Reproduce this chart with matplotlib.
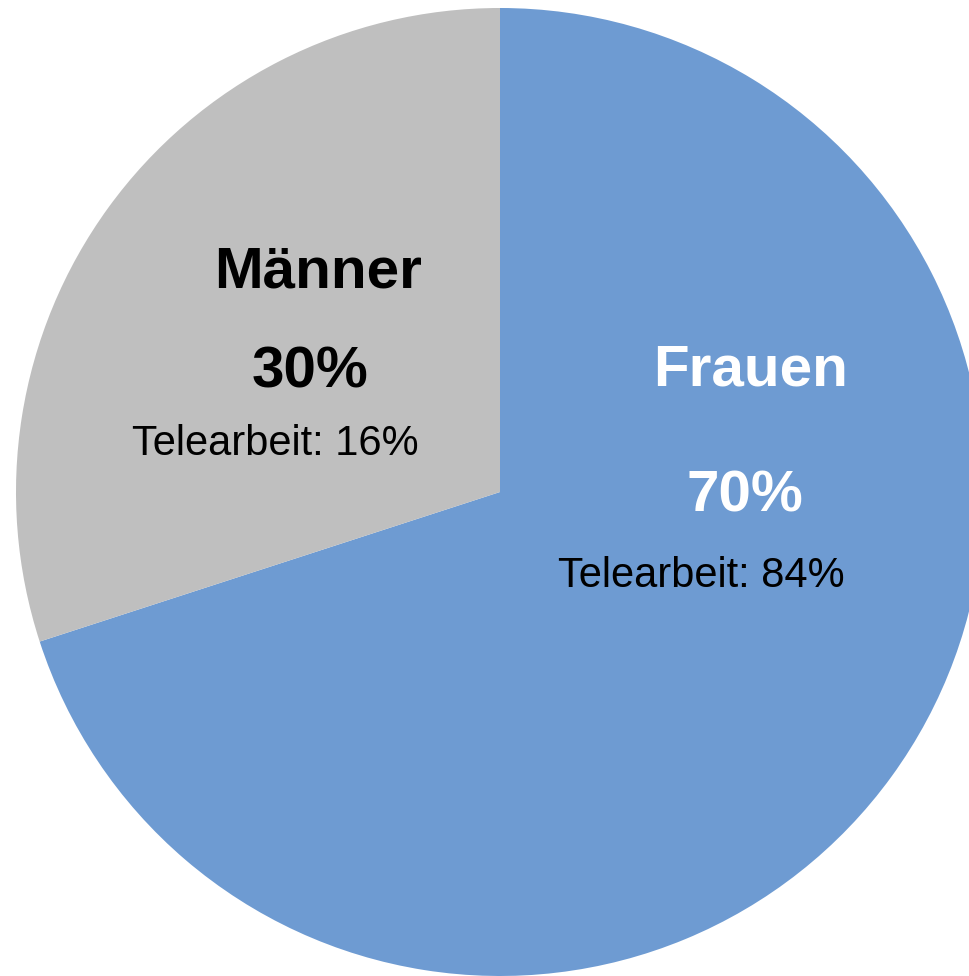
import matplotlib.pyplot as plt

labels = ['Frauen', 'Männer']
shares = [70, 30]
telearbeit = [84, 16]
colors = ['#6E9BD2', '#BFBFBF']

W, H = 970, 976
fig = plt.figure(figsize=(W / 100, H / 100), dpi=100)
ax = fig.add_axes([0, 0, 1, 1])

ax.pie(shares, colors=colors, startangle=90, counterclock=False,
       center=(500, H - 492), radius=484, frame=True,
       wedgeprops=dict(linewidth=0))
ax.set_xlim(0, W)
ax.set_ylim(0, H)
ax.set_aspect('equal')
ax.axis('off')

# narrow font is not installed, so Arial-like font a bit smaller
font = ['Liberation Sans Narrow', 'Liberation Sans', 'DejaVu Sans']

# label positions in pixels (x center, baseline y from top)
pos = {
    'Frauen': [(751, 385), (745, 512), (701, 587)],
    'Männer': [(318, 288), (310, 387), (275, 455)],
}
txt_col = {'Frauen': 'white', 'Männer': 'black'}

for lab, share, tele in zip(labels, shares, telearbeit):
    (x1, y1), (x2, y2), (x3, y3) = pos[lab]
    ax.text(x1, H - y1, lab, ha='center', va='baseline', fontsize=42,
            fontweight='bold', color=txt_col[lab], family=font)
    ax.text(x2, H - y2, f'{share}%', ha='center', va='baseline', fontsize=42,
            fontweight='bold', color=txt_col[lab], family=font)
    ax.text(x3, H - y3, f'Telearbeit: {tele}%', ha='center', va='baseline',
            fontsize=30, color='black', family=font)

fig.savefig('out.png', dpi=100)
